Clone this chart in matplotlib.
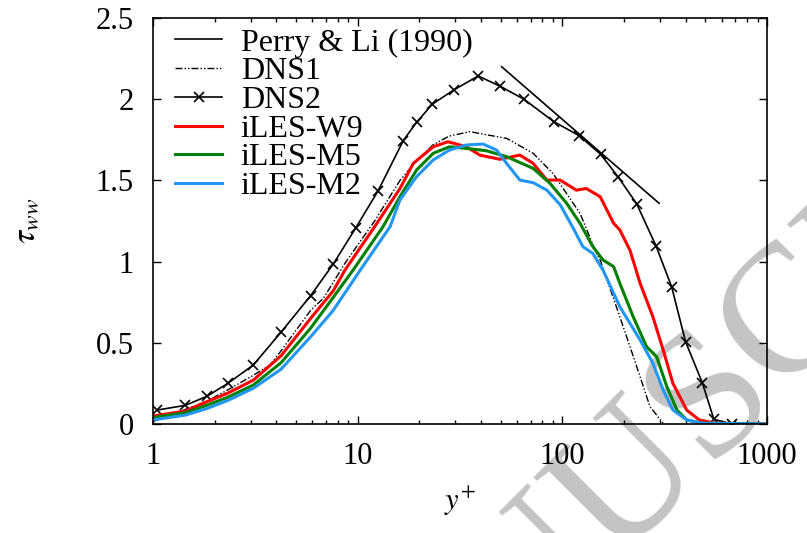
import matplotlib
matplotlib.use("Agg")
import matplotlib.pyplot as plt
from matplotlib.ticker import NullFormatter

plt.rcParams["font.family"] = ["Liberation Serif", "DejaVu Serif"]
plt.rcParams["mathtext.fontset"] = "stix"

# Perry & Li (1990) log-law line, two end points
perry_x = [50.5, 297]
perry_y = [2.20, 1.359]

# DNS1 (dash-dot-dot)
dns1_x = [1.0, 1.44, 1.83, 2.32, 3.09, 3.73, 4.22, 5.89, 6.8, 8.67, 12.1, 16.1, 19.4,
          23.4, 28.0, 35.4, 43, 53.4, 72, 90, 122, 147, 153, 191, 231, 268, 311]
dns1_y = [0.015, 0.09, 0.14, 0.21, 0.30, 0.363, 0.45, 0.70, 0.774, 0.99, 1.25, 1.50, 1.62,
          1.72, 1.773, 1.80, 1.78, 1.759, 1.667, 1.543, 1.297, 1.05, 1.01, 0.66, 0.353, 0.107, 0.004]

# DNS2 (crosses)
dns2_x = [1.05, 1.44, 1.83, 2.32, 3.09, 4.22, 5.89, 7.6, 9.8, 12.6, 16.7, 19.4, 23.2,
          29.5, 38.8, 49.6, 64.9, 91, 121, 154, 188, 231, 287, 342, 400, 483, 550, 671]
dns2_y = [0.086, 0.115, 0.17, 0.25, 0.363, 0.565, 0.79, 0.985, 1.209, 1.437, 1.745, 1.858, 1.97,
          2.057, 2.143, 2.08, 2.0, 1.861, 1.775, 1.66, 1.519, 1.355, 1.096, 0.845, 0.507, 0.254, 0.029, 0.0]

# iLES-W9
w9_x = [1.0, 1.44, 1.83, 2.32, 3.09, 4.22, 5.89, 7.6, 8.67, 12.1, 16.1, 18.7, 23.4, 27.6, 34,
        39.5, 49.5, 62, 72, 84, 97.6, 117, 131, 153, 178, 191, 214, 240, 277, 311, 347, 405, 467, 560, 1000]
w9_y = [0.049, 0.08, 0.137, 0.19, 0.27, 0.42, 0.65, 0.82, 0.948, 1.215, 1.45, 1.605, 1.707, 1.738, 1.707,
        1.656, 1.63, 1.656, 1.605, 1.502, 1.502, 1.44, 1.45, 1.4, 1.236, 1.195, 1.07, 0.866, 0.66, 0.456, 0.25, 0.086, 0.025, 0.005, 0.0]

# iLES-M5
m5_x = [1.0, 1.44, 1.83, 2.32, 3.09, 4.22, 5.89, 7.6, 9.5, 13.3, 16.1, 19.4, 23.4, 28.1, 34,
        42.4, 53.4, 72, 87, 105, 122, 141, 158, 178, 191, 222, 258, 289, 324, 363, 405, 480, 1000]
m5_y = [0.04, 0.07, 0.115, 0.165, 0.24, 0.377, 0.59, 0.78, 0.948, 1.215, 1.40, 1.564, 1.667, 1.707, 1.697,
        1.683, 1.646, 1.574, 1.482, 1.359, 1.236, 1.092, 1.01, 0.969, 0.866, 0.66, 0.476, 0.414, 0.23, 0.086, 0.025, 0.005, 0.0]

# iLES-M2
m2_x = [1.0, 1.44, 1.83, 2.32, 3.09, 4.22, 5.89, 7.6, 10.3, 14.4, 16.1, 19.4, 23.4, 28.1, 34,
        41, 47.7, 53.4, 62, 72, 84, 97.6, 112, 126, 141, 158, 191, 240, 277, 311, 347, 405, 480, 1000]
m2_y = [0.025, 0.055, 0.095, 0.145, 0.22, 0.337, 0.537, 0.70, 0.948, 1.215, 1.38, 1.523, 1.626, 1.687, 1.718,
        1.724, 1.687, 1.605, 1.502, 1.486, 1.44, 1.35, 1.215, 1.092, 1.05, 0.948, 0.722, 0.517, 0.374, 0.209, 0.086, 0.025, 0.005, 0.0]

fig = plt.figure(figsize=(8.07, 5.33), dpi=100)
ax = fig.add_axes([153 / 807, 1 - 424 / 533, 614 / 807, 406 / 533])

# faint watermark in the lower right, behind the axes
fig.text(699 / 807, 1 - 414 / 533, "MANUSCRIPT", rotation=45, rotation_mode="anchor",
         fontsize=132, color="#c4c4c4", ha="center", va="center", zorder=-1)

ax.plot(perry_x, perry_y, color="black", lw=1.2, label="Perry & Li (1990)")
ax.plot(dns1_x, dns1_y, color="black", lw=1.0, dashes=[5, 1.5, 1, 1.5, 1, 1.5],
        label="DNS1")
ax.plot(dns2_x, dns2_y, color="black", lw=1.2, marker="x", ms=7, mew=1.2, label="DNS2")
ax.plot(w9_x, w9_y, color="#ff0000", lw=2.2, label="iLES-W9")
ax.plot(m5_x, m5_y, color="#008000", lw=2.2, label="iLES-M5")
ax.plot(m2_x, m2_y, color="#2196f3", lw=2.2, label="iLES-M2")

ax.set_xscale("log")
ax.set_xlim(1, 1000)
ax.set_ylim(0, 2.5)
ax.set_yticks([0, 0.5, 1, 1.5, 2, 2.5])
ax.set_yticklabels(["0", "0.5", "1", "1.5", "2", "2.5"])
ax.set_xticks([1, 10, 100, 1000])
ax.set_xticklabels(["1", "10", "100", "1000"])
ax.xaxis.set_minor_formatter(NullFormatter())
ax.tick_params(which="both", direction="in", top=True, right=True, labelsize=22, width=1.0)
ax.tick_params(which="major", length=6)
ax.tick_params(which="minor", length=3)
ax.tick_params(axis="y", which="major", pad=14)
ax.tick_params(axis="x", which="major", pad=13)
ax.patch.set_alpha(0)
for s in ax.spines.values():
    s.set_linewidth(1.2)

ax.set_xlabel(r"$y^{+}$", fontsize=22, labelpad=10)
ax.set_ylabel(r"$\tau_{ww}$", fontsize=24, labelpad=39)

ax.legend(loc="upper left", bbox_to_anchor=(0, 1.03), frameon=False, fontsize=23,
          handlelength=1.45, labelspacing=-0.02, borderaxespad=0.3, handletextpad=0.6)

fig.savefig("out.png", dpi=100)
